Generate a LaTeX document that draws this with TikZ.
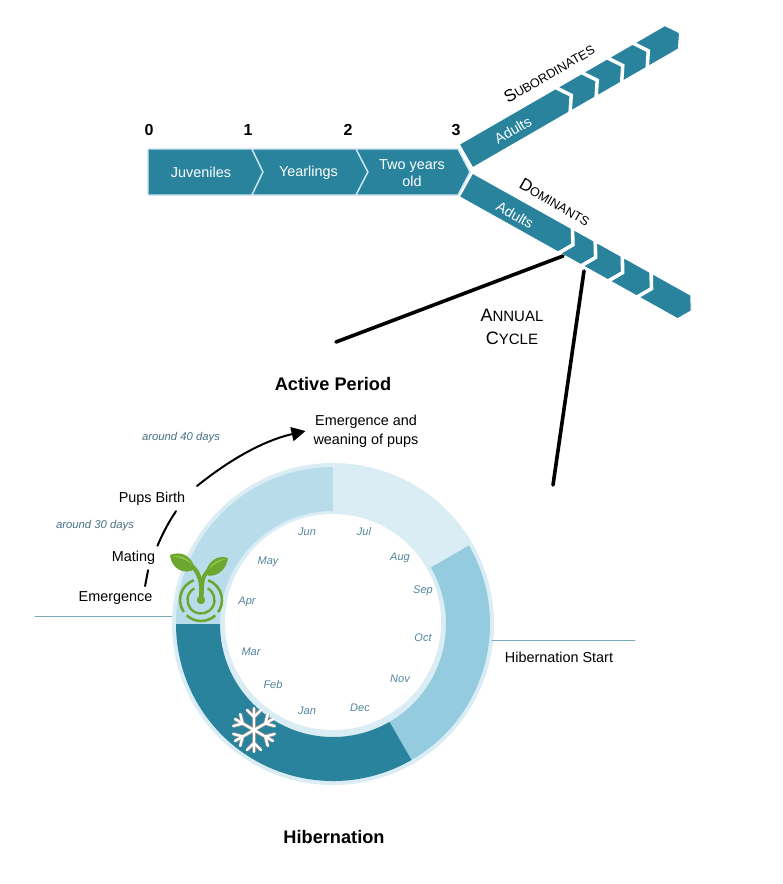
\documentclass[tikz,border=0pt]{standalone}
\usepackage{fontspec}
\setmainfont{Liberation Sans}
\usetikzlibrary{arrows.meta}
\definecolor{tealbar}{RGB}{42,131,157}
\definecolor{paleline}{RGB}{200,228,238}
\definecolor{ringpale}{RGB}{218,237,245}
\definecolor{ringlight}{RGB}{184,220,234}
\definecolor{ringmid}{RGB}{148,203,222}
\definecolor{monthtext}{RGB}{82,134,156}
\definecolor{ruleline}{RGB}{125,168,186}
\definecolor{leafgreen}{RGB}{108,168,48}
\definecolor{leaflight}{RGB}{150,196,80}
\tikzset{
  monthlabel/.style={text=monthtext,font=\fontsize{11}{11}\selectfont\itshape},
  dayslabel/.style={text=monthtext!85!black,font=\fontsize{11.3}{11.3}\selectfont\itshape},
  barlabel/.style={text=white,align=center,font=\fontsize{14.4}{17.5}\selectfont},
  blacklabel/.style={align=center,inner sep=2pt,outer sep=3.5pt,font=\fontsize{14.4}{19}\selectfont},
  yearlabel/.style={font=\fontsize{16}{16}\selectfont\bfseries},
  titlelabel/.style={font=\fontsize{18.2}{18.2}\selectfont\bfseries},
  capslabel/.style={align=center,font=\fontsize{15}{23}\selectfont},
  thickline/.style={line width=3.6pt,black},
  thinline/.style={line width=0.9pt,ruleline},
  softarrow/.style={line width=2pt,black},
  chevron/.style={fill=tealbar,draw=white,line width=1pt,line join=miter},
}
\newcommand{\bigS}[2]{{\fontsize{17}{17}\selectfont #1}{\fontsize{12.6}{12.6}\selectfont #2}}

\begin{document}
\begin{tikzpicture}[x=1pt,y=-1pt,line cap=round,line join=round]
    \path[use as bounding box] (0,0) rectangle (783,884);

    % timeline bar
    \fill[tealbar,draw=paleline,line width=1.4pt] (148,149) -- (252,149) -- (263,172) -- (252,195) -- (148,195) -- cycle;
    \fill[tealbar,draw=paleline,line width=1.4pt] (252,149) -- (356,149) -- (368,172) -- (356,195) -- (252,195) -- (263,172) -- cycle;
    \fill[tealbar,draw=paleline,line width=1.4pt] (356,149) -- (458,149) -- (470,172) -- (458,195) -- (356,195) -- (368,172) -- cycle;

    % upper arm
    \begin{scope}[shift={(466,156)},rotate=30]
        \fill[chevron] (0,-13.5) -- (111,-13.5) -- (120,0) -- (111,13.5) -- (0,13.5) -- cycle;
        \foreach \sa/\sb in {114/141,144/170.5,173.5/200,203/237.5}
            \fill[chevron] (\sa,-13.5) -- (\sb,-13.5) -- (\sb+9,0) -- (\sb,13.5) -- (\sa,13.5) -- (\sa+9,0) -- cycle;
    \end{scope}

    % lower arm
    \begin{scope}[shift={(466,185)},rotate=-29.2]
        \fill[chevron] (0,-13.5) -- (113,-13.5) -- (121,0) -- (113,13.5) -- (0,13.5) -- cycle;
        \foreach \sa/\sb in {116/139,142/170,173/203,206/250}
            \fill[chevron] (\sa,-13.5) -- (\sb,-13.5) -- (\sb+8,0) -- (\sb,13.5) -- (\sa,13.5) -- (\sa+8,0) -- cycle;
    \end{scope}

    \node[barlabel] (juveniles) at (201,172) {Juveniles};
    \node[barlabel] (yearlings) at (308.5,173) {Yearlings};
    \node[barlabel] (twoyears) at (412,173) {Two years\\old};
    \node[barlabel,rotate=30] (adultsup) at (513,130) {Adults};
    \node[barlabel,rotate=-30] (adultsdown) at (515,215) {Adults};

    \node[yearlabel] (year0) at (149,130) {0};
    \node[yearlabel] (year1) at (248,130) {1};
    \node[yearlabel] (year2) at (348,130) {2};
    \node[yearlabel] (year3) at (456,130) {3};

    \node[rotate=30] (subordinates) at (549,73) {\bigS{S}{UBORDINATES}};
    \node[rotate=-30] (dominants) at (555,202) {\bigS{D}{OMINANTS}};
    \node[capslabel] (annual) at (512,327) {{\fontsize{18}{18}\selectfont A}{\fontsize{15}{15}\selectfont NNUAL}\\{\fontsize{18}{18}\selectfont C}{\fontsize{15}{15}\selectfont YCLE}};

    % lines down to the cycle
    \coordinate (cycleleft) at (336,342);
    \coordinate (armleft) at (563,256);
    \coordinate (cycleright) at (553,485);
    \coordinate (armright) at (584,271);
    \draw[thickline] (cycleleft) -- (armleft);
    \draw[thickline] (cycleright) -- (armright);

    \node[titlelabel] (active) at (333,384) {Active Period};
    \node[titlelabel] (hibernation) at (334,837) {Hibernation};

    % ring
    \fill[ringpale] (333,624) circle[radius=161];
    \foreach \a/\b/\c in {180/270/ringlight,270/330/ringpale,-30/60/ringmid,60/180/tealbar}
        \fill[\c] (333,624) ++(\a:157) arc[start angle=\a,end angle=\b,radius=157] -- ++(\b:-44) arc[start angle=\b,end angle=\a,radius=113] -- cycle;
    \fill[white] (333,622) circle[radius=108];

    \foreach \m/\x/\y in {Jun/307/532,Jul/364/532,May/268/562,Aug/400/558,Apr/247/602,Sep/423/591,Mar/251/652,Oct/423/638,Feb/273/685,Nov/400/679,Jan/307/711,Dec/360/708}
        \node[monthlabel] (\m) at (\x,\y) {\m};

    % sprout
    \draw[leafgreen,line width=2.6pt,line cap=butt] (201,600) ++(-70:21) arc[start angle=-70,end angle=35,radius=21];
    \draw[leafgreen,line width=2.6pt,line cap=butt] (201,600) ++(47:21) arc[start angle=47,end angle=133,radius=21];
    \draw[leafgreen,line width=2.6pt,line cap=butt] (201,600) ++(145:21) arc[start angle=145,end angle=250,radius=21];
    \draw[leafgreen,line width=2.4pt,line cap=butt] (201,600) ++(-60:13.5) arc[start angle=-60,end angle=240,radius=13.5];
    \fill[leafgreen] (201,600) circle[radius=4.2];
    \fill[leafgreen] (199,600) -- (199,586) .. controls (198.5,578) and (195,572) .. (190,566) -- (194,565) .. controls (199,570) and (201,575) .. (201.5,578) .. controls (202,575) and (204,572) .. (208,568) -- (210,571) .. controls (206,575) and (204,580) .. (204,587) -- (203.5,600) -- cycle;
    \fill[leafgreen] (195,569) .. controls (191,554) and (180,551) .. (170,555) .. controls (171,568) and (184,576) .. (195,569) -- cycle;
    \fill[leaflight] (192,564) .. controls (186,557) and (179,555) .. (173,556.5) .. controls (180,557) and (186,560) .. (192,564) -- cycle;
    \fill[leafgreen] (205,575) .. controls (208,559) and (219,555) .. (228,558) .. controls (226,571) and (216,578) .. (205,575) -- cycle;
    \fill[leaflight] (209,569) .. controls (213,562) and (219,559) .. (226,559) .. controls (220,561) and (214,564) .. (209,569) -- cycle;

    % snowflake
    \foreach \ang in {30,90,150,210,270,330}
        \draw[black!45,line width=4pt,line cap=butt,shift={(254,730)},rotate=\ang] (0,0) -- (22,0) (13,0) -- (20,-7) (13,0) -- (20,7);
    \foreach \ang in {30,90,150,210,270,330}
        \draw[white,line width=2.4pt,shift={(254,730)},rotate=\ang] (0,0) -- (22,0) (13,0) -- (20,-7) (13,0) -- (20,7);

    % dates
    \node[blacklabel] (emergence) at (115.5,598) {Emergence};
    \node[blacklabel] (mating) at (133.5,558) {Mating};
    \node[blacklabel] (pups) at (152,499) {Pups Birth};
    \node[blacklabel,outer sep=6pt] (weaning) at (366,431) {Emergence and\\weaning of pups};
    \node[blacklabel] (hibstart) at (559,657) {Hibernation Start};
    \node[dayslabel] (days40) at (181,438) {around 40 days};
    \node[dayslabel] (days30) at (95,526) {around 30 days};

    \coordinate (arrowstart) at (197,486);
    \draw[softarrow] (emergence.22) -- (mating.-40);
    \draw[softarrow] (mating.27) .. controls (162,535) and (168,523) .. (pups.-27);
    \draw[softarrow,-{Triangle[length=14pt,width=14pt]}] (arrowstart) .. controls (228,461) and (262,441) .. (weaning.west);

    % rules
    \coordinate (ruleleftA) at (35,616);
    \coordinate (ruleleftB) at (172,616);
    \coordinate (rulerightA) at (492,640);
    \coordinate (rulerightB) at (635,640);
    \draw[thinline] (ruleleftA) -- (ruleleftB);
    \draw[thinline] (rulerightA) -- (rulerightB);
\end{tikzpicture}
\end{document}
